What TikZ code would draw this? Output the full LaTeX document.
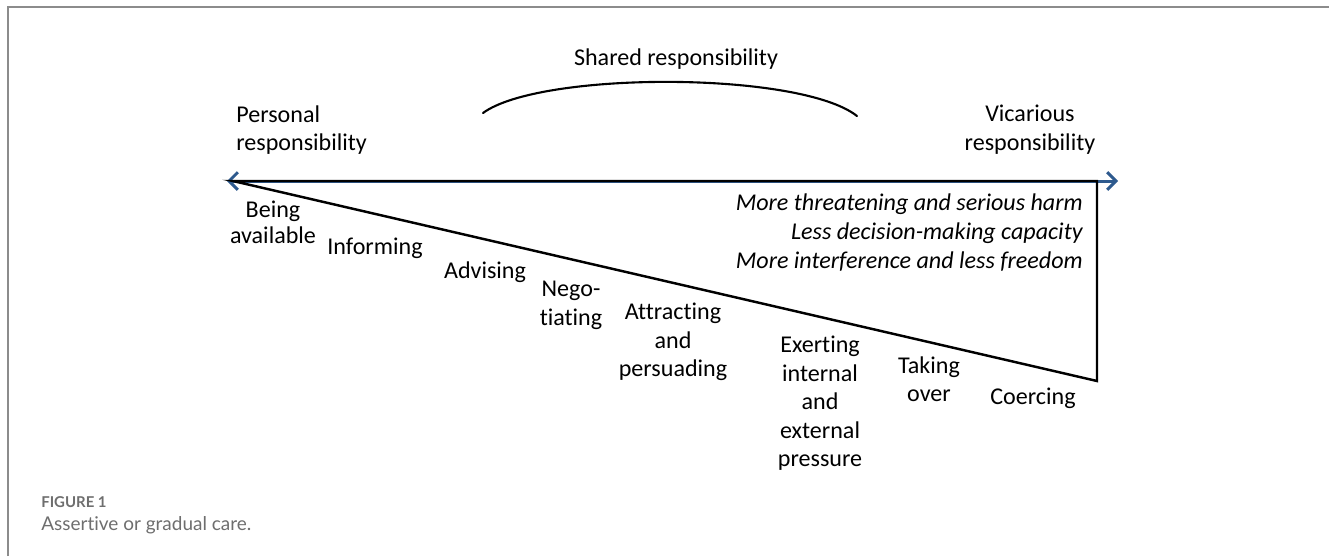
\documentclass[tikz,border=0pt]{standalone}
\usepackage{fontspec}
\setmainfont{Carlito}[Ligatures=NoCommon]
\newfontfamily\capfont{Lato}[Ligatures=NoCommon]
\usepackage{xcolor}
\usetikzlibrary{arrows.meta, positioning}

\definecolor{arrowblue}{HTML}{2E5A8E}
\definecolor{framegray}{HTML}{8C8C8C}
\definecolor{capgray}{HTML}{6E6E6E}

\begin{document}
\begin{tikzpicture}[
    x=0.02cm, y=-0.02cm,
    lbl/.style={inner sep=0pt, align=center, anchor=north,
                font=\fontsize{13.7}{16.2}\selectfont},
    endlbl/.style={lbl, anchor=north west, align=left},
    harmlbl/.style={inner sep=0pt, align=right, anchor=north east,
                font=\fontsize{13.7}{16.5}\selectfont\itshape},
    capfig/.style={inner sep=0pt, anchor=base west, text=capgray,
                font=\capfont\bfseries\fontsize{8.5}{10}\selectfont},
    captxt/.style={inner sep=0pt, anchor=base west, text=capgray,
                font=\capfont\fontsize{10.8}{12}\selectfont},
    axis/.style={draw=arrowblue, line width=1.7pt,
                {Straight Barb[length=5pt, width=10pt, color=arrowblue]}-{Straight Barb[length=5pt, width=10pt, color=arrowblue]}},
    wedge/.style={draw=black, line width=1.4pt, line join=miter},
    arcline/.style={draw=black, line width=1.2pt, line cap=round},
    frame/.style={draw=framegray, line width=1.1pt}
]
\useasboundingbox (0,0) rectangle (1329,556);

%% ===== FRAME =====
\draw[frame] (8,556) -- (8,7) -- (1329,7);

%% ===== AXIS AND WEDGE =====
\coordinate (left)  at (227,181);
\coordinate (right) at (1118,181);
\coordinate (apex)  at (233,181);
\coordinate (low)   at (1097,381);
\coordinate (high)  at (1097,181);

\draw[axis]  (left) -- (right);
\draw[wedge] (apex) -- (low) -- (high) -- cycle;

%% ===== SHARED RESPONSIBILITY =====
\coordinate (sharedL) at (483,113);
\coordinate (sharedR) at (857,116);
\draw[arcline] (sharedL) .. controls (540,71) and (800,71) .. (sharedR);
\node[lbl] (shared) at (676,48) {Shared responsibility};

%% ===== END LABELS =====
\node[endlbl] (personal)  at (236,105) {Personal\\responsibility};
\node[lbl]    (vicarious) at (1030,105) {Vicarious\\responsibility};

%% ===== HARM TEXT =====
\node[harmlbl] (harm) at (1083,193) {More threatening and serious harm\\Less decision-making capacity\\More interference and less freedom};

%% ===== STEPS ALONG THE SLOPE =====
\node[lbl, font=\fontsize{13.7}{14.4}\selectfont] (avail) at (273,201) {Being\\available};
\node[lbl] (inform)   at (375,238)  {Informing};
\node[lbl] (advise)   at (485,261)  {Advising};
\node[lbl] (nego)     at (571,281)  {Nego-\\tiating};
\node[lbl] (attract)  at (673,303)  {Attracting\\and\\persuading};
\node[lbl] (exert)    at (820,336)  {Exerting\\internal\\and\\external\\pressure};
\node[lbl] (takeover) at (929,356)  {Taking\\over};
\node[lbl] (coerce)   at (1033,388) {Coercing};

%% ===== CAPTION =====
\node[capfig] (fig)     at (41,507) {FIGURE 1};
\node[captxt] (figtext) at (41,530) {Assertive or gradual care.};

\end{tikzpicture}
\end{document}
